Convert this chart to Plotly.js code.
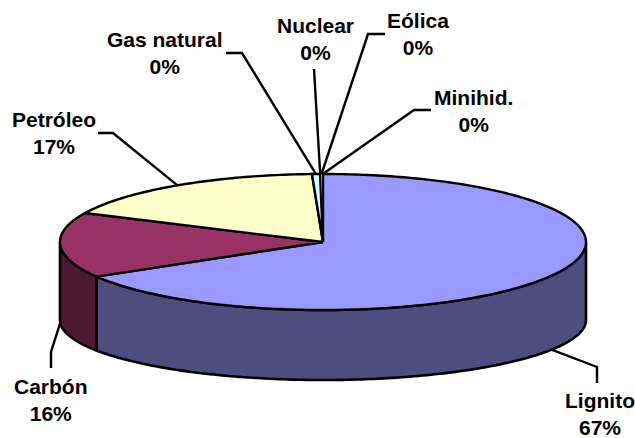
<!DOCTYPE html>
<html>
<head>
<meta charset="utf-8">
<script src="https://cdn.plot.ly/plotly-3.0.1.min.js"></script>
<style>html,body{margin:0;padding:0;background:#fff}#c{width:635px;height:438px}</style>
</head>
<body>
<div id="c"></div>
<script>
// Data (clockwise from 12 o'clock)
var categories = ['Lignito','Carbón','Petróleo','Gas natural','Nuclear','Eólica','Minihid.'];
var values = [66.5,15.5,17.33,0.49,0.02,0.14,0.02];
var topColors = ['#9999FF','#993366','#FFFFCC','#CCFFFF','#660066','#FF8080','#0066CC'];
var sideColors = ['#4D4D80','#4D1A33','#80805A','#668080','#330033','#804040','#003366'];
// Layout
var topEllipse = {cx:323, cy:242, rx:263, ry:68};
var bottomEllipse = {cx:323, cy:320, rx:263, ry:60};
var labelX = [600,51,54,165,315,418,473];
var labelY = [414,400,133,53,39,34,111];
var elbows = [[[597,367],[597,383]],[[51,352],[51,368]],[[113,133],[98,133]],[[242,53],[226,53]],[],[[368,34],[385,34]],[[414,110],[431,110]]];
var leaderStart = [null,null,null,null,[314,69],null,null];
var fontPx = 21;

function pt(e,a){return [e.cx+e.rx*Math.sin(a), e.cy-e.ry*Math.cos(a)];}
function arc(e,a,b){
  var n=Math.max(2,Math.ceil(Math.abs(b-a)/(Math.PI/180))), out=[];
  for(var i=0;i<=n;i++) out.push(pt(e,a+(b-a)*i/n));
  return out;
}
var total=values.reduce(function(s,v){return s+v;},0);
var traces=[], annotations=[], cum=0, sliceAngles=[];
values.forEach(function(v){var a=cum/total*2*Math.PI;cum+=v;sliceAngles.push([a,cum/total*2*Math.PI]);});

function poly(points,fill,w){
  traces.push({type:'scatter',mode:'lines',x:points.map(function(p){return p[0];}),y:points.map(function(p){return p[1];}),
    fill:'toself',fillcolor:fill,line:{color:'#000',width:w,simplify:false},hoverinfo:'skip',showlegend:false});
}
// visible walls (front half of the ellipse)
sliceAngles.forEach(function(s,i){
  var a=Math.max(s[0],Math.PI/2), b=Math.min(s[1],3*Math.PI/2);
  if(b<=a) return;
  var pts=arc(topEllipse,a,b).concat(arc(bottomEllipse,b,a));
  pts.push(pts[0]);
  poly(pts,sideColors[i],2.6);
});
// top faces
sliceAngles.forEach(function(s,i){
  var pts=[[topEllipse.cx,topEllipse.cy]].concat(arc(topEllipse,s[0],s[1]));
  pts.push(pts[0]);
  poly(pts,topColors[i],values[i]<0.1?0.6:(values[i]<0.3?1.2:2.4));
});
// leaders and labels
sliceAngles.forEach(function(s,i){
  var mid=(s[0]+s[1])/2;
  var front=mid>Math.PI/2 && mid<3*Math.PI/2;
  var anchor=pt(front?bottomEllipse:topEllipse,mid);
  var path=[anchor].concat(elbows[i]);
  if(leaderStart[i]) path.push(leaderStart[i]);
  traces.push({type:'scatter',mode:'lines',x:path.map(function(p){return p[0];}),y:path.map(function(p){return p[1];}),
    line:{color:'#000',width:2.4},hoverinfo:'skip',showlegend:false});
  annotations.push({xref:'x',yref:'y',x:labelX[i],y:labelY[i],xanchor:'center',yanchor:'middle',showarrow:false,
    text:'<b>'+categories[i]+'<br>'+Math.round(values[i]/total*100)+'%</b>',align:'center',
    font:{family:'"Liberation Sans",Arial,sans-serif',size:fontPx,color:'#000'}});
});
Plotly.newPlot('c',traces,{
  width:635,height:438,margin:{l:0,r:0,t:0,b:0},paper_bgcolor:'#fff',plot_bgcolor:'#fff',showlegend:false,
  xaxis:{range:[0,635],visible:false,fixedrange:true},
  yaxis:{range:[438,0],visible:false,fixedrange:true},
  annotations:annotations
},{displayModeBar:false,staticPlot:true});
</script>
</body>
</html>
